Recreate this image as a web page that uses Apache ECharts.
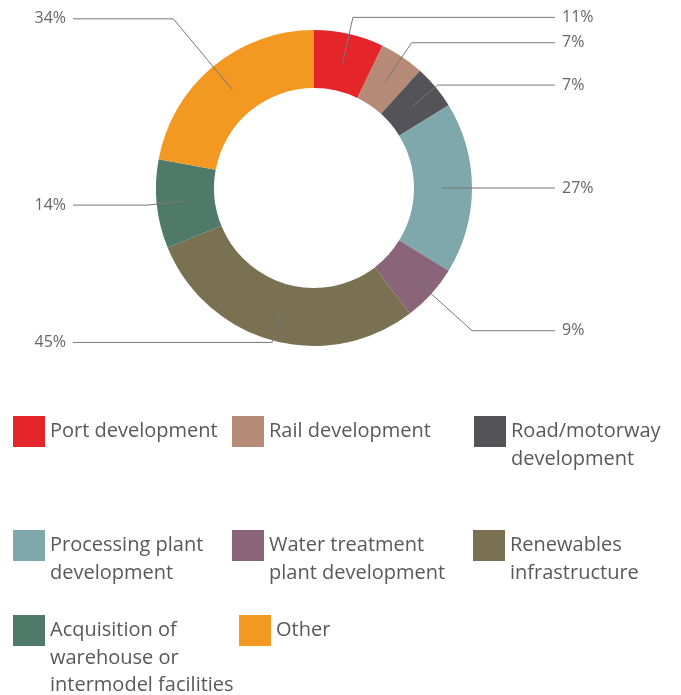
<!DOCTYPE html>
<html>
<head>
<meta charset="utf-8">
<script src="https://cdn.jsdelivr.net/npm/echarts@6/dist/echarts.min.js"></script>
<style>
  html, body { margin: 0; padding: 0; background: #fff; }
  #demo { width: 681px; height: 695px; }
</style>
</head>
<body>
<div id="demo"></div>
<script>
// categories, clockwise from 12 o'clock
const categories = [
  'Port development',
  'Rail development',
  'Road/motorway development',
  'Processing plant development',
  'Water treatment plant development',
  'Renewables infrastructure',
  'Acquisition of warehouse or intermodel facilities',
  'Other'
]
// legend text as it wraps in the picture
const legendLabels = [
  'Port development',
  'Rail development',
  'Road/motorway\ndevelopment',
  'Processing plant\ndevelopment',
  'Water treatment\nplant development',
  'Renewables\ninfrastructure',
  'Acquisition of\nwarehouse or\nintermodel facilities',
  'Other'
]
const values = [11, 7, 7, 27, 9, 45, 14, 34]
const colors = ['#e4262a', '#b58b78', '#545358', '#7fa8ad', '#8a6579', '#7a7153', '#4f7a6a', '#f39821']

// layout: legend icon top-left corners and leader line first-segment lengths
const legendPos = [
  [13, 416], [232, 416], [474, 416],
  [13, 530], [232, 530], [473, 530],
  [13, 615], [239, 615]
]
const leaderLen = [47, 47, 33, 34, 85, 32, 40, 92]

const FONT = '"Open Sans", sans-serif'
const LH = 27.5
const ICON_H = 31
const CX = 314
const LINE_REACH = 241 // horizontal reach of leader lines from the centre

const chart = echarts.init(document.getElementById('demo'))

const legends = categories.map(function (name, i) {
  const lines = legendLabels[i].split('\n').length
  const shift = lines > 1 ? (lines - 1) * LH + (LH - ICON_H) / 2 : 0
  // blank lines in front keep the icon level with the first text line
  const text = '\n'.repeat(lines - 1) + legendLabels[i]
  return {
    left: legendPos[i][0],
    top: legendPos[i][1] - shift,
    padding: 0,
    itemWidth: 32,
    itemHeight: ICON_H,
    itemGap: 6,
    icon: 'rect',
    selectedMode: false,
    data: [name],
    formatter: function () { return text },
    textStyle: {
      fontFamily: FONT,
      fontSize: 20,
      color: '#58595b',
      lineHeight: LH
    }
  }
})

const option = {
  animation: false,
  legend: legends,
  series: [
    {
      name: 'ring',
      type: 'pie',
      left: 0,
      top: 0,
      width: 628,
      height: 376,
      radius: [100, 158],
      silent: true,
      label: { show: false },
      labelLine: { show: false },
      data: categories.map(function (name, i) {
        return { name: name, value: values[i], itemStyle: { color: colors[i] } }
      })
    },
    {
      // invisible pie, only to hang the leader lines from inside the ring
      name: 'labels',
      type: 'pie',
      left: 0,
      top: 0,
      width: 628,
      height: 376,
      radius: [0, 128],
      silent: true,
      z: 3,
      itemStyle: { color: 'rgba(0,0,0,0)' },
      label: {
        show: true,
        position: 'outside',
        formatter: '{c}%',
        fontFamily: FONT,
        fontSize: 16,
        color: '#666'
      },
      labelLine: {
        show: true,
        length: 45,
        length2: 20,
        lineStyle: { color: '#777', width: 1 }
      },
      labelLayout: function (params) {
        const pts = params.labelLinePoints
        if (!pts) return {}
        const right = pts[2][0] > CX
        const endX = right ? CX + LINE_REACH : CX - LINE_REACH
        return {
          x: right ? endX + 7 : endX - 7,
          y: pts[1][1],
          align: right ? 'left' : 'right',
          verticalAlign: 'middle',
          labelLinePoints: [pts[0], pts[1], [endX, pts[1][1]]]
        }
      },
      data: categories.map(function (name, i) {
        return { name: name, value: values[i], labelLine: { length: leaderLen[i] } }
      })
    }
  ]
}

chart.setOption(option)
</script>
</body>
</html>
